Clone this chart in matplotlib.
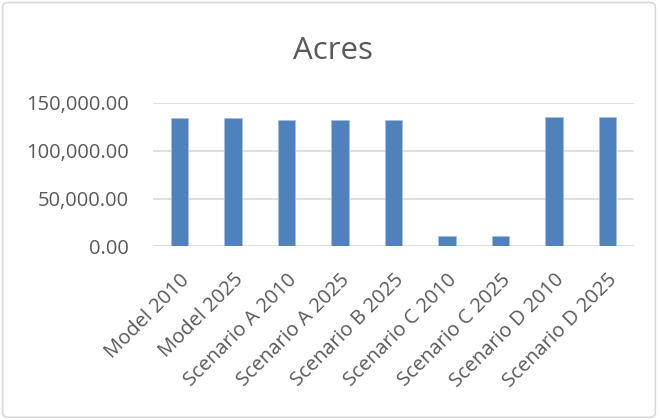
import matplotlib
matplotlib.use("Agg")
import matplotlib.pyplot as plt
from matplotlib.patches import FancyBboxPatch
from matplotlib.ticker import FuncFormatter

# data
categories = ["Model 2010", "Model 2025", "Scenario A 2010", "Scenario A 2025",
              "Scenario B 2025", "Scenario C 2010", "Scenario C 2025",
              "Scenario D 2010", "Scenario D 2025"]
acres = [134700, 134700, 132600, 132600, 132600, 11100, 11100, 135800, 135800]
yticks = [0, 50000, 100000, 150000]

plt.rcParams['font.family'] = ['Open Sans', 'DejaVu Sans']
text_col = '#595959'

fig = plt.figure(figsize=(6.58, 4.19), dpi=100)
ax = fig.add_axes([0.2325, 0.4122, 0.731, 0.342])

x = range(len(categories))
ax.bar(x, acres, width=0.325, color='#4F81BD', edgecolor='#A7C0DE', linewidth=0.6, zorder=3)

ax.set_ylim(0, 150000)
ax.set_xlim(-0.5, len(categories) - 0.5)
ax.set_yticks(yticks)
ax.yaxis.set_major_formatter(FuncFormatter(lambda v, p: f"{v:,.2f}"))
ax.grid(axis='y', color='#D9D9D9', linewidth=1.2, zorder=0)
for s in ax.spines.values():
    s.set_visible(False)
ax.tick_params(axis='both', length=0, labelsize=14.5, colors=text_col)
ax.tick_params(axis='y', pad=17)
ax.tick_params(axis='x', pad=17)
ax.set_xticks(list(x))
ax.set_xticklabels(categories, rotation=45, ha='right', rotation_mode='anchor')

fig.text(0.506, 0.859, "Acres", ha='center', va='baseline', fontsize=22.5, color=text_col)

border = FancyBboxPatch((0.004, 0.004), 0.992, 0.99, boxstyle="round,pad=0,rounding_size=0.01",
                        transform=fig.transFigure, fill=False, edgecolor='#D9D9D9', linewidth=1.2)
fig.patches.append(border)

fig.savefig("out.png", dpi=100)
